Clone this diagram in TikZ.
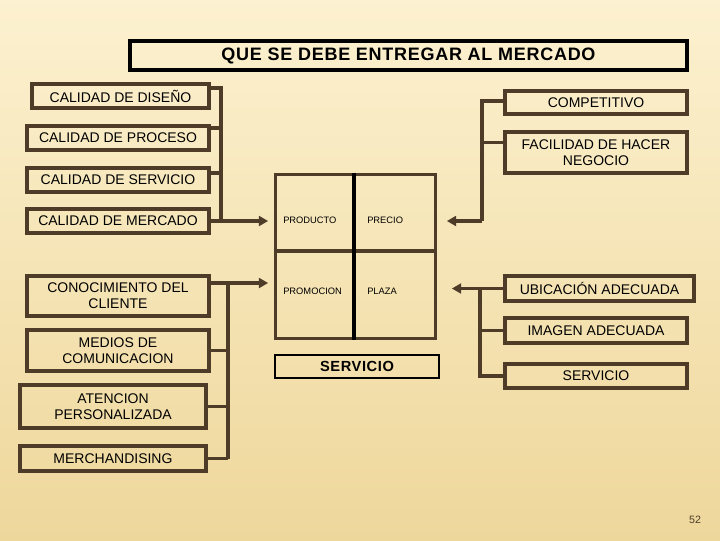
\documentclass[tikz,border=0pt]{standalone}
\usepackage{fontspec}
\setmainfont{Liberation Sans}
\newfontfamily\headfont[LetterSpace=4]{Liberation Sans}
\usepackage{xcolor}
\usetikzlibrary{arrows.meta, positioning, calc}

\definecolor{barkbrown}{RGB}{78,60,40}
\definecolor{paperlight}{RGB}{252,241,208}
\definecolor{paperdark}{RGB}{238,215,155}

\begin{document}
\begin{tikzpicture}[x=0.75pt, y=-0.75pt,
    % brown framed boxes (left and right columns)
    box/.style={rectangle, draw=barkbrown, line width=2.8pt, align=center,
                font=\fontsize{10.5}{12}\selectfont, inner sep=1pt},
    % black title frame
    headbox/.style={rectangle, draw=black, line width=3pt, align=center,
                    font=\headfont\fontsize{13.5}{15}\bfseries},
    % thin framed box under the mix
    svcbox/.style={rectangle, draw=black, line width=0.8pt, align=center,
                   font=\headfont\fontsize{11}{13}\bfseries},
    % text in the four cells
    cell/.style={anchor=west, inner sep=0pt, font=\fontsize{7}{8}\selectfont},
    link/.style={barkbrown, line width=2.8pt},
    arrow/.style={-{Triangle[length=7pt,width=7.5pt]}, barkbrown, line width=2.8pt}
]

%-------- BACKGROUND --------
\useasboundingbox (0,0) rectangle (720,540);
\shade[top color=paperlight, bottom color=paperdark] (0,0) rectangle (720,540);

%-------- TITLE --------
\node[headbox, minimum width=418pt, minimum height=22pt] (head) at (408.5,55.5)
    {QUE SE DEBE ENTREGAR AL MERCADO};

%-------- LEFT COLUMN --------
\node[box, minimum width=133pt, minimum height=18.25pt] (dis) at (120.5,96) {CALIDAD DE DISEÑO};
\node[box, minimum width=136.75pt, minimum height=18.25pt] (pro) at (118,138) {CALIDAD DE PROCESO};
\node[box, minimum width=136.75pt, minimum height=18.25pt] (ser) at (118,180) {CALIDAD DE SERVICIO};
\node[box, minimum width=136.75pt, minimum height=18.25pt] (mer) at (118,221) {CALIDAD DE MERCADO};
\node[box, minimum width=136.75pt, minimum height=30.25pt] (con) at (118,296)
    {CONOCIMIENTO DEL\\CLIENTE};
\node[box, minimum width=136.75pt, minimum height=31pt] (med) at (118,350.5)
    {MEDIOS DE\\COMUNICACION};
\node[box, minimum width=139.75pt, minimum height=32.5pt] (ate) at (113,406.5)
    {ATENCION\\PERSONALIZADA};
\node[box, minimum width=139.75pt, minimum height=19pt] (mch) at (113,458.5) {MERCHANDISING};

%-------- RIGHT COLUMN --------
\node[box, minimum width=136.75pt, minimum height=17.5pt] (comp) at (596,102.5) {COMPETITIVO};
\node[box, minimum width=136.75pt, minimum height=31pt] (fac) at (596,152.5)
    {FACILIDAD DE HACER\\NEGOCIO};
\node[box, minimum width=142pt, minimum height=19pt] (ubi) at (599.5,288.5) {UBICACIÓN ADECUADA};
\node[box, minimum width=136.75pt, minimum height=19pt] (ima) at (596,330.5) {IMAGEN ADECUADA};
\node[box, minimum width=136.75pt, minimum height=18.25pt] (srv) at (596,376) {SERVICIO};

%-------- MIX --------
\node[rectangle, draw=barkbrown, line width=2.8pt, minimum width=120pt, minimum height=123pt]
    (mix) at (355.5,256.5) {};
\draw[link] ([yshift=4pt]mix.west) -- ([yshift=4pt]mix.east);
\draw[black, line width=2.8pt] ([xshift=-1pt]mix.north) -- ([xshift=-1pt]mix.south);
\node[cell] (prod) at (283,220) {PRODUCTO};
\node[cell] (prec) at (367,220) {PRECIO};
\node[cell] (prom) at (283,291) {PROMOCION};
\node[cell] (plaz) at (367,291) {PLAZA};
\node[svcbox, minimum width=123pt, minimum height=17.25pt] (svc) at (357,366.5) {SERVICIO};

%-------- ARROW ENDS --------
\coordinate (gl) at ($(mix.west)+(-5.5,0)$);
\coordinate (gr) at ($(mix.east)+(9.5,0)$);
\coordinate (gr2) at ($(mix.east)+(14.5,0)$);

%-------- LEFT BRACKETS --------
\coordinate (lb1) at (221,88);
\draw[link] (dis.east |- lb1) -- (lb1) -- (lb1 |- mer.east);
\draw[link] ([yshift=7.5pt]pro.east) -- ++(10,0);
\draw[link] ([yshift=5pt]ser.east) -- ++(10,0);
\draw[arrow] (mer.east) -- (gl |- mer.east);

\coordinate (lb2) at (228,283);
\draw[arrow] (con.east |- lb2) -- (gl |- lb2);
\draw[link] (lb2) -- (lb2 |- mch.east);
\draw[link] (med.east) -- (lb2 |- med.east);
\draw[link] (ate.east) -- (lb2 |- ate.east);
\draw[link] (mch.east) -- (lb2 |- mch.east);

%-------- RIGHT BRACKETS --------
\coordinate (rb1) at (482,101);
\draw[link] (comp.west |- rb1) -- (rb1) -- (rb1 |- mer.east);
\draw[link] ([yshift=7.5pt]fac.west) -- ++(-21,0);
\draw[arrow] (rb1 |- mer.east) -- (gr |- mer.east);

\coordinate (rb2) at (480,288.5);
\draw[arrow] (ubi.west) -- (gr2 |- ubi.west);
\draw[link] (rb2) -- (rb2 |- srv.west) -- (srv.west);
\draw[link] (ima.west) -- (rb2 |- ima.west);

%-------- PAGE NUMBER --------
\node[font=\fontsize{8}{9}\selectfont, text=barkbrown] (pg) at (695,520) {52};

\end{tikzpicture}
\end{document}
